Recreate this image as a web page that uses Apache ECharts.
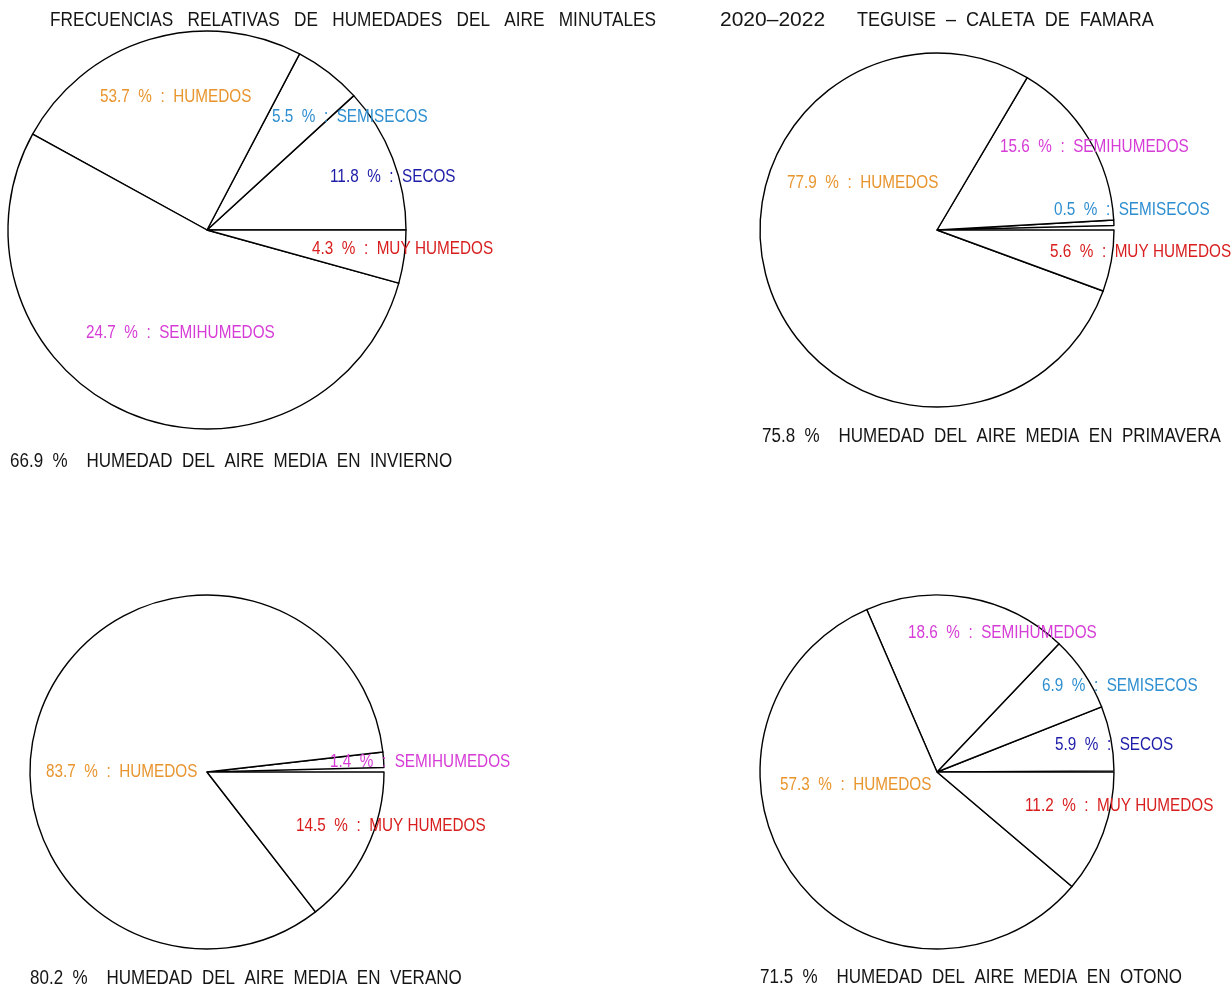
<!DOCTYPE html>
<html>
<head>
<meta charset="utf-8">
<script src="https://cdn.jsdelivr.net/npm/echarts@6/dist/echarts.min.js"></script>
<style>
html,body{margin:0;padding:0;background:#fff;}
#chart{width:1232px;height:989px;}
</style>
</head>
<body>
<div id="chart"></div>
<script>
// ---- DATA ----
const titleLeftWords = ['FRECUENCIAS', 'RELATIVAS', 'DE', 'HUMEDADES', 'DEL', 'AIRE', 'MINUTALES'];
const titleYears = '2020\u20132022';
const titlePlaceWords = ['TEGUISE', '\u2013', 'CALETA', 'DE', 'FAMARA'];
const captionWords = ['HUMEDAD', 'DEL', 'AIRE', 'MEDIA', 'EN'];
const categories = ['SECOS', 'SEMISECOS', 'SEMIHUMEDOS', 'HUMEDOS', 'MUY HUMEDOS'];
const seasons = ['INVIERNO', 'PRIMAVERA', 'VERANO', 'OTONO'];
const invierno = [11.8, 5.5, 24.7, 53.7, 4.3];
const primavera = [null, 0.5, 15.6, 77.9, 5.6];
const verano = [null, null, 1.4, 83.7, 14.5];
const otono = [5.9, 6.9, 18.6, 57.3, 11.2];
const humedadMedia = [66.9, 75.8, 80.2, 71.5];

// ---- STYLE / LAYOUT ----
const catColors = ['#1c1ca8', '#2e8ed0', '#d63cd6', '#e8952e', '#d81e1e'];
const FONT = '"Liberation Sans", Arial, sans-serif';
const SX = 0.85; // horizontal condensing of the lettering
const sp = function (n) { return new Array(n + 1).join(' '); };
const pies = [
  { values: invierno, center: [207, 230], r: 199, caption: [10, 461],
    labels: [[330, 177], [272, 117], [86, 333], [100, 97], [312, 249]] },
  { values: primavera, center: [937, 230], r: 177, caption: [762, 436],
    labels: [null, [1054, 210], [1000, 147], [787, 183], [1050, 252]] },
  { values: verano, center: [207, 772], r: 177, caption: [30, 978],
    labels: [null, null, [330, 762], [46, 772], [296, 826]] },
  { values: otono, center: [937, 772], r: 177, caption: [760, 977],
    labels: [[1055, 745], [1042, 686], [908, 633], [780, 785], [1025, 806]] }
];

const series = [];
const graphics = [];

function addText(x, y, text, size, color, sx) {
  graphics.push({ type: 'text', x: x, y: y, scaleX: sx || SX, silent: true, z: 10,
    style: { text: text, font: size + 'px ' + FONT, fill: color, verticalAlign: 'middle' } });
}

addText(50, 20, titleLeftWords.join(sp(3)), 20, '#151515', 0.86);
addText(720, 20, titleYears, 20, '#151515', 1.05);
addText(857, 20, titlePlaceWords.join(sp(2)), 20, '#151515', 0.9);

pies.forEach(function (p, si) {
  const data = [];
  let sum = 0;
  p.values.forEach(function (v) { if (v != null) sum += v; });
  const rest = Math.round((100 - sum) * 10) / 10; // undrawn remainder of the 100 %
  if (rest > 0) {
    data.push({ name: 'resto', value: rest,
      itemStyle: { color: 'rgba(0,0,0,0)', borderWidth: 0 } });
  }
  p.values.forEach(function (v, ci) {
    if (v == null) return;
    data.push({ name: categories[ci], value: v });
    const pos = p.labels[ci];
    if (pos) {
      addText(pos[0], pos[1], v.toFixed(1) + sp(2) + '%' + sp(2) + ':' + sp(2) + categories[ci], 18, catColors[ci]);
    }
  });
  series.push({
    type: 'pie', center: p.center, radius: [0, p.r],
    startAngle: 0, clockwise: false, silent: true, animation: false,
    minAngle: 0, avoidLabelOverlap: false,
    label: { show: false }, labelLine: { show: false },
    emphasis: { disabled: true },
    itemStyle: { color: '#ffffff', borderColor: '#000000', borderWidth: 1.4 },
    data: data
  });
  addText(p.caption[0], p.caption[1],
    humedadMedia[si].toFixed(1) + sp(2) + '%' + sp(4) + captionWords.join(sp(2)) + sp(2) + seasons[si],
    20, '#151515');
});

const chart = echarts.init(document.getElementById('chart'), null, { renderer: 'canvas' });
chart.setOption({
  backgroundColor: '#ffffff',
  animation: false,
  series: series,
  graphic: graphics
});
</script>
</body>
</html>
